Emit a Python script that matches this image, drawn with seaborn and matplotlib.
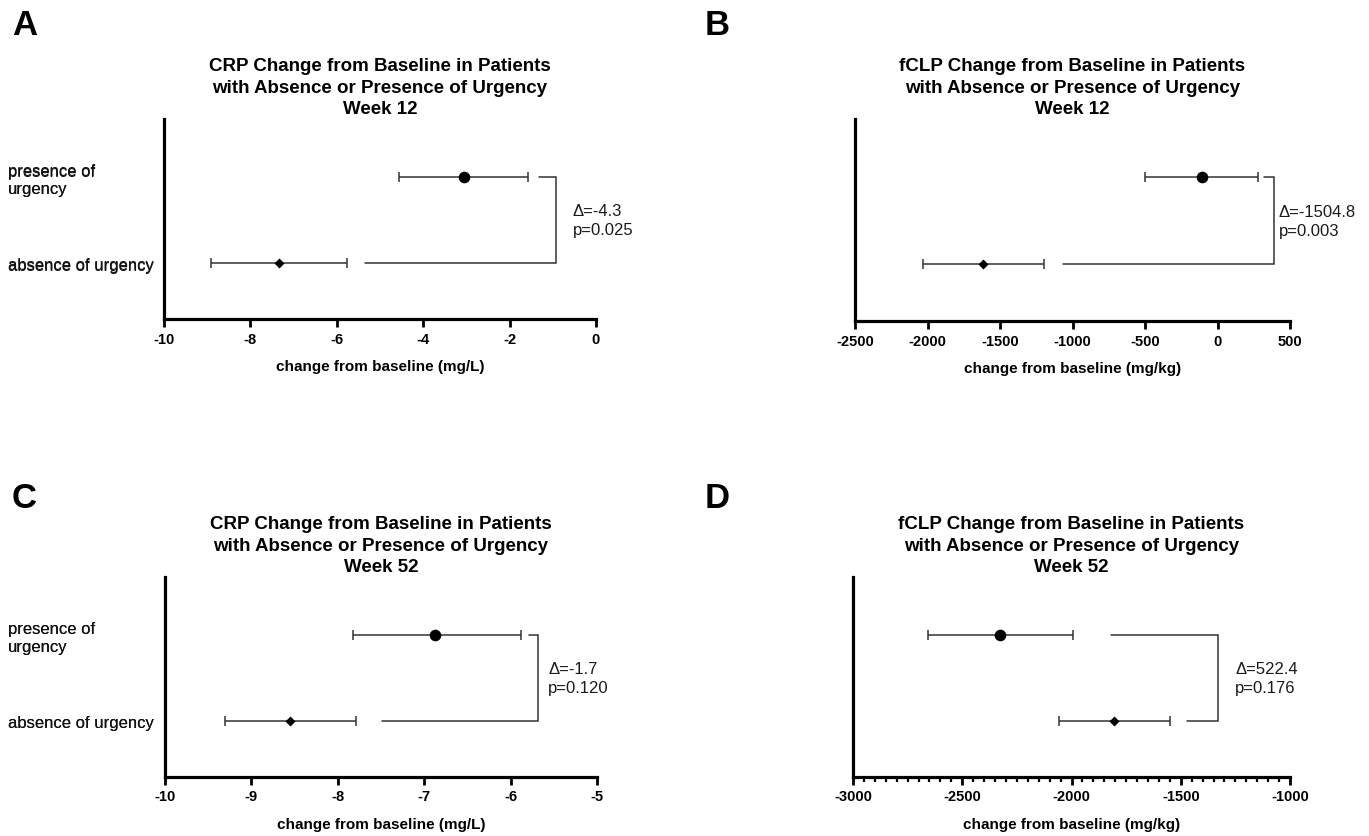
import numpy as np
import pandas as pd
import matplotlib
matplotlib.use("Agg")
import matplotlib.pyplot as plt
from matplotlib.ticker import MultipleLocator
import seaborn as sns

# ---------------- data ----------------
categories = ["absence of urgency", "presence of\nurgency"]

titles = [
    "CRP Change from Baseline in Patients\nwith Absence or Presence of Urgency\nWeek 12",
    "fCLP Change from Baseline in Patients\nwith Absence or Presence of Urgency\nWeek 12",
    "CRP Change from Baseline in Patients\nwith Absence or Presence of Urgency\nWeek 52",
    "fCLP Change from Baseline in Patients\nwith Absence or Presence of Urgency\nWeek 52",
]
xlabels = ["change from baseline (mg/L)", "change from baseline (mg/kg)",
           "change from baseline (mg/L)", "change from baseline (mg/kg)"]
panel_letters = ["A", "B", "C", "D"]

# [absence, presence]
A_mean = [-7.34, -3.06]
A_low = [-8.91, -4.55]
A_high = [-5.77, -1.58]

B_mean = [-1615, -106]
B_low = [-2033, -497]
B_high = [-1200, 282]

C_mean = [-8.55, -6.875]
C_low = [-9.30, -7.82]
C_high = [-7.79, -5.885]

D_mean = [-1804, -2325]
D_low = [-2057, -2657]
D_high = [-1547, -1992]

annotations = ["\u0394=-4.3\np=0.025", "\u0394=-1504.8\np=0.003",
               "\u0394=-1.7\np=0.120", "\u0394=522.4\np=0.176"]

# x-axis ranges / ticks
x_ranges = [(-10, 0), (-2500, 500), (-10, -5), (-3000, -1000)]
x_major = [2, 500, 1, 500]
x_minor = [None, None, None, 50]

# bracket geometry: (vertical x, top start x, bottom start x)
brackets = [(-0.93, -1.33, -5.35), (388, 321, -1067),
            (-5.68, -5.79, -7.49), (-1329, -1818, -1471)]
text_gap_px = [17, 5, 10, 17]

# ---------------- style ----------------
sns.set_theme(style="ticks")
plt.rcParams["font.family"] = ["Liberation Sans", "DejaVu Sans"]
plt.rcParams["axes.unicode_minus"] = False
plt.rcParams["text.color"] = "black"
plt.rcParams["axes.labelcolor"] = "black"
plt.rcParams["xtick.color"] = "black"
plt.rcParams["ytick.color"] = "black"

W, H = 1369, 837
fig = plt.figure(figsize=(W / 100, H / 100), dpi=100)

# axes boxes in pixels: left, right, top, bottom
boxes = [(164, 596, 120, 320), (855, 1290, 120, 322),
         (165, 597, 578, 778), (853, 1290, 578, 778)]
letter_pos = [(12, 35), (705, 35), (12, 508), (705, 508)]

means = [A_mean, B_mean, C_mean, D_mean]
lows = [A_low, B_low, C_low, D_low]
highs = [A_high, B_high, C_high, D_high]

ypos = [0, 1]
bar_color = "#333333"

for i in range(4):
    l, r, t, b = boxes[i]
    ax = fig.add_axes([l / W, 1 - b / H, (r - l) / W, (b - t) / H])
    m, lo, hi = means[i], lows[i], highs[i]

    # error bars
    xerr = np.array([[m[k] - lo[k] for k in range(2)],
                     [hi[k] - m[k] for k in range(2)]])
    ax.errorbar(m, ypos, xerr=xerr, fmt="none", ecolor=bar_color,
                elinewidth=1.1, capsize=3.5, capthick=1.1, zorder=2)

    df_abs = pd.DataFrame({"x": [m[0]], "y": [ypos[0]]})
    df_pre = pd.DataFrame({"x": [m[1]], "y": [ypos[1]]})
    sns.scatterplot(data=df_abs, x="x", y="y", marker="D", s=26,
                    color="black", edgecolor="black", linewidth=0, ax=ax, zorder=3)
    sns.scatterplot(data=df_pre, x="x", y="y", marker="o", s=70,
                    color="black", edgecolor="black", linewidth=0, ax=ax, zorder=3)

    # bracket
    vx, tx, bx = brackets[i]
    ax.plot([tx, vx, vx, bx], [ypos[1], ypos[1], ypos[0], ypos[0]],
            color=bar_color, lw=1.1, solid_joinstyle="miter", zorder=1)
    ax.annotate(annotations[i], xy=(vx, 0.5), xytext=(text_gap_px[i] * 0.72, 0),
                textcoords="offset points", ha="left", va="center",
                fontsize=12, linespacing=1.3, color="#1a1a1a")

    # axes formatting
    ax.set_xlim(*x_ranges[i])
    ax.set_ylim(-0.65, 1.67)
    ax.xaxis.set_major_locator(MultipleLocator(x_major[i]))
    if x_minor[i]:
        ax.xaxis.set_minor_locator(MultipleLocator(x_minor[i]))
        ax.tick_params(axis="x", which="minor", length=3.5, width=1.6, color="black")
    ax.set_yticks(ypos)
    ax.set_yticklabels(categories, fontsize=12, ha="left", color="#111111")
    ax.tick_params(axis="y", length=0, pad=(l - 8) * 0.72)
    ax.tick_params(axis="x", which="major", length=6, width=2, color="black",
                   labelsize=10.5, pad=3)
    for lab in ax.get_xticklabels():
        lab.set_fontweight("bold")
    ax.set_xlabel(xlabels[i], fontsize=11, fontweight="bold", labelpad=10)
    ax.set_ylabel("")
    ax.set_title(titles[i], fontsize=13.5, fontweight="bold", linespacing=1.38, pad=4)
    sns.despine(ax=ax)
    for side in ["left", "bottom"]:
        ax.spines[side].set_linewidth(2.3)
        ax.spines[side].set_color("black")

    lx, ly = letter_pos[i]
    fig.text(lx / W, 1 - ly / H, panel_letters[i], fontsize=25,
             fontweight="bold", ha="left", va="baseline")

fig.savefig("out.png", dpi=100)
